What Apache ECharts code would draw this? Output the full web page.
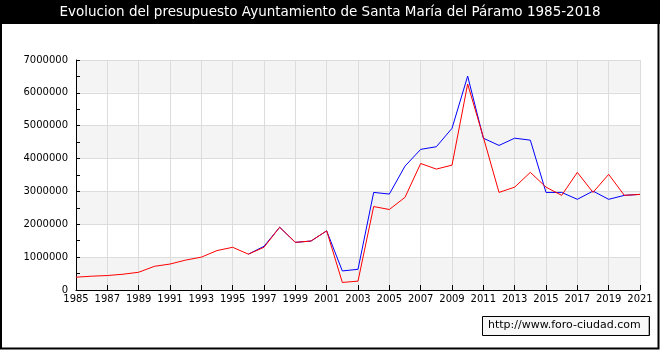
<!DOCTYPE html>
<html>
<head>
<meta charset="utf-8">
<script src="https://cdn.jsdelivr.net/npm/echarts@6/dist/echarts.min.js"></script>
<style>html,body{margin:0;padding:0;background:#fff}#c{width:660px;height:350px}</style>
</head>
<body>
<div id="c"></div>
<script>
var titleText = 'Evolucion del presupuesto Ayuntamiento de Santa María del Páramo 1985-2018';
var years = [1985,1986,1987,1988,1989,1990,1991,1992,1993,1994,1995,1996,1997,1998,1999,2000,2001,2002,2003,2004,2005,2006,2007,2008,2009,2010,2011,2012,2013,2014,2015,2016,2017,2018,2019,2020,2021];
var seriesBlue = [null,null,null,null,null,null,null,null,null,null,null,1090000,1330000,1910000,1450000,1490000,1800000,580000,630000,2970000,2920000,3770000,4280000,4360000,4920000,6510000,4620000,4400000,4620000,4560000,2970000,2970000,2760000,3010000,2760000,2880000,2910000];
var seriesRed = [390000,420000,440000,480000,540000,720000,790000,910000,1000000,1200000,1300000,1090000,1300000,1910000,1450000,1490000,1800000,230000,270000,2540000,2450000,2820000,3850000,3680000,3800000,6270000,4650000,2970000,3130000,3580000,3130000,2880000,3580000,2970000,3520000,2880000,2910000];
var watermark = 'http://www.foro-ciudad.com';

function pairs(vals){ return years.map(function(y,i){ return [y, vals[i]]; }); }

var chart = echarts.init(document.getElementById('c'), null, {renderer:'canvas'});
var font = 'DejaVu Sans';
chart.setOption({
  animation: false,
  backgroundColor: '#ffffff',
  grid: {left: 76, right: 20, top: 60, bottom: 60},
  graphic: [
    {type:'rect', shape:{x:0, y:0, width:660, height:24}, style:{fill:'#000'}, z:0},
    {type:'rect', shape:{x:1, y:1, width:657.5, height:347.5}, style:{fill:'transparent', stroke:'#000', lineWidth:2}, z:10},
    {type:'text', left:'center', top:5, style:{text:titleText, fill:'#fff', font:'13.5px "DejaVu Sans"'}, z:11},
    {type:'group', x:482, y:316, z:11, children:[
      {type:'rect', shape:{x:0.5,y:0.5,width:167,height:19}, style:{fill:'#f7f7f7', stroke:'#000', lineWidth:1}},
      {type:'line', shape:{x1:166.5,y1:1.5,x2:166.5,y2:19}, style:{stroke:'#aaa', lineWidth:1}},
      {type:'text', x:6, y:4, style:{text:watermark, fill:'#000', font:'11px "DejaVu Sans"'}}
    ]}
  ],
  xAxis: {
    type:'value', min:1985, max:2021, interval:2,
    axisLine:{show:true, lineStyle:{color:'#000', width:1}},
    axisTick:{show:true, inside:true, length:5, lineStyle:{color:'#000'}},
    axisLabel:{color:'#000', fontFamily:font, fontSize:10, margin:4, formatter:function(v){return String(v);}},
    splitLine:{show:true, lineStyle:{color:'#dcdcdc', width:1}}
  },
  yAxis: [{
    type:'value', min:0, max:7000000, interval:1000000,
    axisLine:{show:true, lineStyle:{color:'#000', width:1}},
    axisTick:{show:false},
    axisLabel:{color:'#000', fontFamily:font, fontSize:10, margin:8, formatter:function(v){return String(v);}},
    splitLine:{show:true, lineStyle:{color:'#dcdcdc', width:1}},
    splitArea:{show:true, areaStyle:{color:['#f4f4f4','#ffffff']}}
  },{
    type:'value', min:0, max:7000000, interval:500000, position:'left',
    axisLine:{show:false},
    axisTick:{show:true, inside:true, length:4, lineStyle:{color:'#000'}},
    axisLabel:{show:false},
    splitLine:{show:false}, splitArea:{show:false}
  }],
  series: [
    {type:'line', name:'azul', data:pairs(seriesBlue), showSymbol:false, symbol:'none', lineStyle:{color:'#0000ff', width:1}, itemStyle:{color:'#0000ff'}, z:2},
    {type:'line', name:'rojo', data:pairs(seriesRed), showSymbol:false, symbol:'none', lineStyle:{color:'#ff0000', width:1}, itemStyle:{color:'#ff0000'}, z:3}
  ]
});
</script>
</body>
</html>
